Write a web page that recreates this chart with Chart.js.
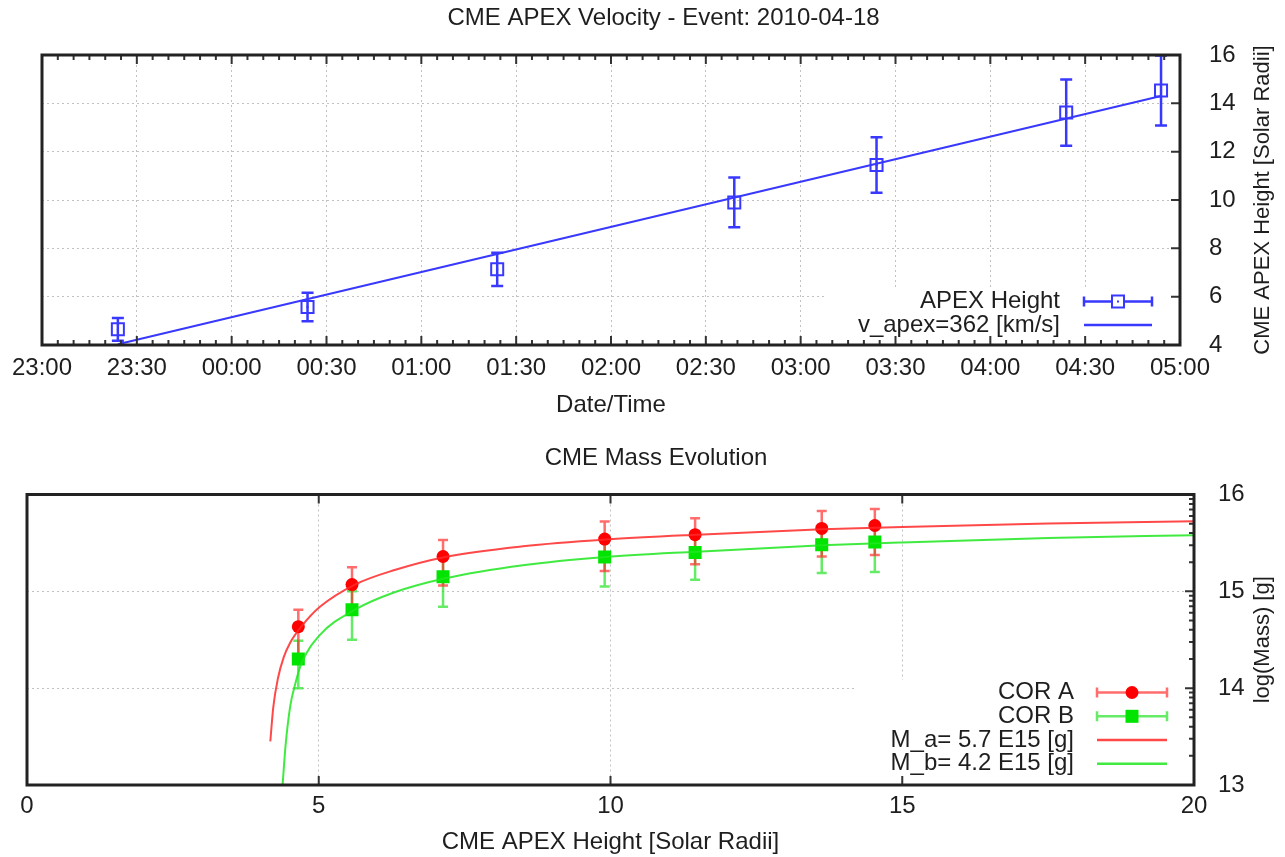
<!DOCTYPE html>
<html>
<head>
<meta charset="utf-8">
<title>CME APEX Velocity / Mass Evolution</title>
<script src="https://cdn.jsdelivr.net/npm/chart.js@4.4.1/dist/chart.umd.min.js"></script>
<style>
  html, body { margin: 0; padding: 0; background: #fff; }
  #wrap { position: relative; width: 1285px; height: 857px; }
  .box { position: absolute; left: 0; width: 1285px; }
  #top { top: 0; height: 430px; }
  #bottom { top: 430px; height: 427px; }
</style>
</head>
<body>
<div id="wrap">
  <div class="box" id="top"><canvas id="velocityChart" width="1285" height="430"></canvas></div>
  <div class="box" id="bottom"><canvas id="massChart" width="1285" height="427"></canvas></div>
</div>
<script>
// observation times (UT) and apex heights, shared by both panels
const obsTimes = ['23:24', '00:24', '01:24', '02:39', '03:24', '04:24', '04:54'];
const apexHeight = [4.65, 5.57, 7.13, 9.9, 11.45, 13.62, 14.53];
const apexHeightErr = [0.47, 0.59, 0.69, 1.03, 1.15, 1.37, 1.45];

// linear height-time fit (v_apex)
const fitTimes = ['23:24', '04:54'];
const fitHeight = [4.03, 14.3];

// log(mass) per detector, with upper / lower error bounds
const corA = [14.635, 15.07, 15.36, 15.54, 15.585, 15.65, 15.68];
const corAHigh = [14.81, 15.25, 15.53, 15.72, 15.755, 15.83, 15.85];
const corALow = [14.34, 14.77, 15.06, 15.21, 15.28, 15.36, 15.375];
const corB = [14.3, 14.81, 15.15, 15.355, 15.4, 15.48, 15.51];
const corBHigh = [14.49, 15.0, 15.33, 15.54, 15.58, 15.66, 15.69];
const corBLow = [14.0, 14.5, 14.84, 15.05, 15.12, 15.19, 15.2];

// fitted mass curves
const fitRadiusA = [4.17, 4.22, 4.3, 4.4, 4.51, 4.7, 5.02, 5.62, 6.3, 7.17, 8.5, 9.92, 11.48, 13.63, 15, 17.5, 20];
const fitMassA = [13.45, 13.8, 14.1, 14.32, 14.47, 14.635, 14.84, 15.07, 15.22, 15.355, 15.465, 15.535, 15.585, 15.64, 15.665, 15.7, 15.725];
const fitRadiusB = [4.38, 4.43, 4.51, 4.6, 4.7, 5.02, 5.62, 6.3, 7.17, 8.5, 9.92, 11.48, 13.63, 15, 17.5, 20];
const fitMassB = [13.0, 13.4, 13.81, 14.05, 14.25, 14.55, 14.81, 14.99, 15.135, 15.27, 15.355, 15.41, 15.475, 15.505, 15.55, 15.58];

// tick labels
const timeTicks = ['23:00', '23:30', '00:00', '00:30', '01:00', '01:30', '02:00', '02:30', '03:00', '03:30', '04:00', '04:30', '05:00'];
const heightTicks = [4, 6, 8, 10, 12, 14, 16];
const radiusTicks = [0, 5, 10, 15, 20];
const massTicks = [13, 14, 15, 16];

// minutes after 23:00
function toMinutes(t) {
    const [h, m] = t.split(':').map(Number);
    return (h * 60 + m - 23 * 60 + 1440) % 1440;
}

const FONT = "'Liberation Sans', Arial, sans-serif";
const TEXT = '#1e1e1e';
const GRID = '#c2c2c2';
const BLUE = '#3838ff';

Chart.defaults.font.family = FONT;
Chart.defaults.font.size = 24;
Chart.defaults.color = TEXT;

// gnuplot-ish frame, ticks, error bars, key and y2 title
const panelPlugin = {
    id: 'panel',
    beforeDatasetsDraw(chart, args, opts) {
        const ctx = chart.ctx;
        const k = opts.keyBox;
        ctx.save();
        ctx.fillStyle = '#fff';
        ctx.fillRect(k[0], k[1], k[2] - k[0], k[3] - k[1]);
        ctx.restore();

        const area = chart.chartArea;
        const xs = chart.scales.x, ys = chart.scales.y;
        ctx.save();
        ctx.beginPath();
        ctx.rect(area.left, area.top, area.right - area.left, area.bottom - area.top);
        ctx.clip();
        chart.data.datasets.forEach(ds => {
            if (!ds.errHigh) return;
            ctx.beginPath();
            ds.data.forEach((p, i) => {
                const x = xs.getPixelForValue(p.x);
                const yt = ys.getPixelForValue(ds.errHigh[i]);
                const yb = ys.getPixelForValue(ds.errLow[i]);
                ctx.moveTo(x, yt); ctx.lineTo(x, yb);
                ctx.moveTo(x - ds.capSize, yt); ctx.lineTo(x + ds.capSize, yt);
                ctx.moveTo(x - ds.capSize, yb); ctx.lineTo(x + ds.capSize, yb);
            });
            ctx.strokeStyle = ds.errColor;
            ctx.lineWidth = 2.5;
            ctx.stroke();
        });
        ctx.restore();
    },
    afterDatasetsDraw(chart, args, opts) {
        const ctx = chart.ctx;
        const {left, right, top, bottom} = chart.chartArea;
        const xs = chart.scales.x, ys = chart.scales.y;

        // little dot in the middle of hollow squares
        chart.data.datasets.forEach((ds, di) => {
            if (!ds.centerDot) return;
            ctx.fillStyle = ds.borderColor;
            chart.getDatasetMeta(di).data.forEach(el => ctx.fillRect(el.x - 1, el.y - 1, 2, 2));
        });

        ctx.save();
        ctx.strokeStyle = '#333';
        ctx.lineWidth = 2;
        ctx.beginPath();
        const xTick = (v, len) => {
            const x = xs.getPixelForValue(v);
            ctx.moveTo(x, bottom); ctx.lineTo(x, bottom - len);
            ctx.moveTo(x, top); ctx.lineTo(x, top + len);
        };
        const yTick = (v, len) => {
            const y = ys.getPixelForValue(v);
            ctx.moveTo(right, y); ctx.lineTo(right - len, y);
        };
        opts.xMajor.forEach(v => xTick(v, 9));
        opts.xMinor.forEach(v => xTick(v, 5));
        opts.yMajor.forEach(v => yTick(v, 9));
        opts.yMinor.forEach(v => yTick(v, 5));
        ctx.stroke();

        ctx.strokeStyle = '#222';
        ctx.lineWidth = 3;
        ctx.strokeRect(left, top, right - left, bottom - top);
        ctx.restore();
    },
    afterDraw(chart, args, opts) {
        const ctx = chart.ctx;
        const area = chart.chartArea;
        const key = opts.key;
        ctx.save();
        ctx.font = '24px ' + FONT;
        ctx.textAlign = 'right';
        ctx.textBaseline = 'middle';
        key.rows.forEach(r => {
            ctx.fillStyle = TEXT;
            ctx.fillText(r.text, key.textRight, r.y);
            const x1 = key.sampleLeft, x2 = key.sampleRight, xm = (x1 + x2) / 2;
            ctx.strokeStyle = r.color;
            ctx.lineWidth = 2.5;
            ctx.beginPath();
            ctx.moveTo(x1, r.y); ctx.lineTo(x2, r.y);
            if (r.caps) {
                ctx.moveTo(x1, r.y - 5); ctx.lineTo(x1, r.y + 5);
                ctx.moveTo(x2, r.y - 5); ctx.lineTo(x2, r.y + 5);
            }
            ctx.stroke();
            if (r.marker === 'hollow') {
                ctx.fillStyle = '#fff';
                ctx.fillRect(xm - 6, r.y - 6, 12, 12);
                ctx.lineWidth = 2;
                ctx.strokeStyle = r.markerColor;
                ctx.strokeRect(xm - 6, r.y - 6, 12, 12);
                ctx.fillStyle = r.markerColor;
                ctx.fillRect(xm - 1, r.y - 1, 2, 2);
            } else if (r.marker === 'circle') {
                ctx.fillStyle = r.markerColor;
                ctx.beginPath();
                ctx.arc(xm, r.y, 6.5, 0, Math.PI * 2);
                ctx.fill();
            } else if (r.marker === 'square') {
                ctx.fillStyle = r.markerColor;
                ctx.fillRect(xm - 6.5, r.y - 6.5, 13, 13);
            }
        });

        // y2 axis title, reading bottom to top
        ctx.font = '22px ' + FONT;
        ctx.translate(opts.yTitleX, (area.top + area.bottom) / 2);
        ctx.rotate(-Math.PI / 2);
        ctx.textAlign = 'center';
        ctx.fillStyle = TEXT;
        ctx.fillText(opts.yTitle, 0, 0);
        ctx.restore();
    }
};

function gridScale(extra) {
    return Object.assign({
        type: 'linear',
        grid: { color: GRID, lineWidth: 1, drawTicks: false },
        border: { display: false, dash: [2, 3] }
    }, extra);
}

// ---------- top panel: apex height vs time ----------
const timeMinor = [];
for (let m = 0; m <= 360; m += 5) {
    if (m % 30) timeMinor.push(m);
}

new Chart(document.getElementById('velocityChart'), {
    type: 'scatter',
    data: {
        datasets: [{
            label: 'APEX Height',
            data: obsTimes.map((t, i) => ({ x: toMinutes(t), y: apexHeight[i] })),
            errHigh: apexHeight.map((h, i) => h + apexHeightErr[i]),
            errLow: apexHeight.map((h, i) => h - apexHeightErr[i]),
            errColor: BLUE,
            capSize: 6,
            centerDot: true,
            pointStyle: 'rect',
            pointRadius: 8.5,
            borderWidth: 2,
            borderColor: BLUE,
            backgroundColor: 'rgba(0,0,0,0)',
            order: 1
        }, {
            label: 'v_apex=362 [km/s]',
            data: fitTimes.map((t, i) => ({ x: toMinutes(t), y: fitHeight[i] })),
            showLine: true,
            pointRadius: 0,
            borderColor: BLUE,
            borderWidth: 2,
            order: 2
        }]
    },
    options: {
        responsive: false,
        animation: false,
        events: [],
        layout: { padding: { left: 42, right: 0, top: 0, bottom: 0 } },
        scales: {
            x: gridScale({
                position: 'bottom', min: 0, max: 360,
                afterBuildTicks: s => { s.ticks = timeTicks.map(t => ({ value: toMinutes(t) })); },
                afterFit: s => { s.height = 85; },
                ticks: { callback: (v, i) => timeTicks[i], padding: 8.6, maxRotation: 0, autoSkip: false },
                title: { display: true, text: 'Date/Time', padding: { top: 0, bottom: 10.6 } }
            }),
            y: gridScale({
                position: 'right', min: 4, max: 16,
                afterBuildTicks: s => { s.ticks = heightTicks.map(v => ({ value: v })); },
                afterFit: s => { s.width = 105; },
                ticks: { padding: 29, callback: v => String(v) }
            })
        },
        plugins: {
            legend: { display: false },
            tooltip: { enabled: false },
            title: {
                display: true,
                text: 'CME APEX Velocity - Event: 2010-04-18',
                font: { size: 24, weight: 'normal' },
                color: TEXT,
                padding: { top: 3.6, bottom: 22.6 }
            },
            panel: {
                keyBox: [825, 287, 1180, 345],
                xMajor: timeTicks.map(toMinutes),
                xMinor: timeMinor,
                yMajor: heightTicks,
                yMinor: [],
                yTitle: 'CME APEX Height [Solar Radii]',
                yTitleX: 1263,
                key: {
                    textRight: 1060, sampleLeft: 1084, sampleRight: 1152,
                    rows: [
                        { text: 'APEX Height', y: 301.5, color: BLUE, caps: true, marker: 'hollow', markerColor: BLUE },
                        { text: 'v_apex=362 [km/s]', y: 325, color: BLUE, caps: false }
                    ]
                }
            }
        }
    },
    plugins: [panelPlugin]
});

// ---------- bottom panel: mass vs height ----------
const massMinor = [];
massTicks.slice(0, -1).forEach(n => {
    for (let k = 2; k <= 9; k++) massMinor.push(n + Math.log10(k));
});

const RED = '#ff0000';
const GREEN = '#00e400';
const RED_BAR = 'rgba(255,40,40,0.68)';
const GREEN_BAR = 'rgba(30,225,30,0.68)';

new Chart(document.getElementById('massChart'), {
    type: 'scatter',
    data: {
        datasets: [{
            label: 'M_b= 4.2 E15 [g]',
            data: fitRadiusB.map((r, i) => ({ x: r, y: fitMassB[i] })),
            showLine: true, pointRadius: 0,
            cubicInterpolationMode: 'monotone',
            borderColor: 'rgba(30,230,30,0.85)', borderWidth: 2,
            order: 1
        }, {
            label: 'M_a= 5.7 E15 [g]',
            data: fitRadiusA.map((r, i) => ({ x: r, y: fitMassA[i] })),
            showLine: true, pointRadius: 0,
            cubicInterpolationMode: 'monotone',
            borderColor: 'rgba(255,40,40,0.85)', borderWidth: 2,
            order: 2
        }, {
            label: 'COR B',
            data: apexHeight.map((r, i) => ({ x: r, y: corB[i] })),
            errHigh: corBHigh, errLow: corBLow,
            errColor: GREEN_BAR, capSize: 5,
            pointStyle: 'rect', pointRadius: 9.2, borderWidth: 0,
            backgroundColor: GREEN,
            order: 3
        }, {
            label: 'COR A',
            data: apexHeight.map((r, i) => ({ x: r, y: corA[i] })),
            errHigh: corAHigh, errLow: corALow,
            errColor: RED_BAR, capSize: 5,
            pointStyle: 'circle', pointRadius: 6.5, borderWidth: 0,
            backgroundColor: RED,
            order: 4
        }]
    },
    options: {
        responsive: false,
        animation: false,
        events: [],
        layout: { padding: { left: 27, right: 0, top: 0, bottom: 0 } },
        scales: {
            x: gridScale({
                position: 'bottom', min: 0, max: 20,
                afterBuildTicks: s => { s.ticks = radiusTicks.map(v => ({ value: v })); },
                afterFit: s => { s.height = 72; },
                ticks: { padding: 7.3, maxRotation: 0, callback: v => String(v) },
                title: { display: true, text: 'CME APEX Height [Solar Radii]', padding: { top: 0, bottom: 0 } }
            }),
            y: gridScale({
                position: 'right', min: 13, max: 16,
                afterBuildTicks: s => { s.ticks = massTicks.map(v => ({ value: v })); },
                afterFit: s => { s.width = 91; },
                ticks: { padding: 24, callback: v => String(v) }
            })
        },
        plugins: {
            legend: { display: false },
            tooltip: { enabled: false },
            title: {
                display: true,
                text: 'CME Mass Evolution',
                font: { size: 24, weight: 'normal' },
                color: TEXT,
                padding: { top: 13.6, bottom: 22.1 }
            },
            panel: {
                keyBox: [854, 250, 1194, 355],
                xMajor: radiusTicks,
                xMinor: [],
                yMajor: massTicks,
                yMinor: massMinor,
                yTitle: 'log(Mass) [g]',
                yTitleX: 1263,
                key: {
                    textRight: 1074, sampleLeft: 1097, sampleRight: 1167,
                    rows: [
                        { text: 'COR A', y: 262.5, color: RED_BAR, caps: true, marker: 'circle', markerColor: RED },
                        { text: 'COR B', y: 286.3, color: GREEN_BAR, caps: true, marker: 'square', markerColor: GREEN },
                        { text: 'M_a= 5.7 E15 [g]', y: 310, color: 'rgba(255,40,40,0.85)', caps: false },
                        { text: 'M_b= 4.2 E15 [g]', y: 333.7, color: 'rgba(30,230,30,0.85)', caps: false }
                    ]
                }
            }
        }
    },
    plugins: [panelPlugin]
});
</script>
</body>
</html>
